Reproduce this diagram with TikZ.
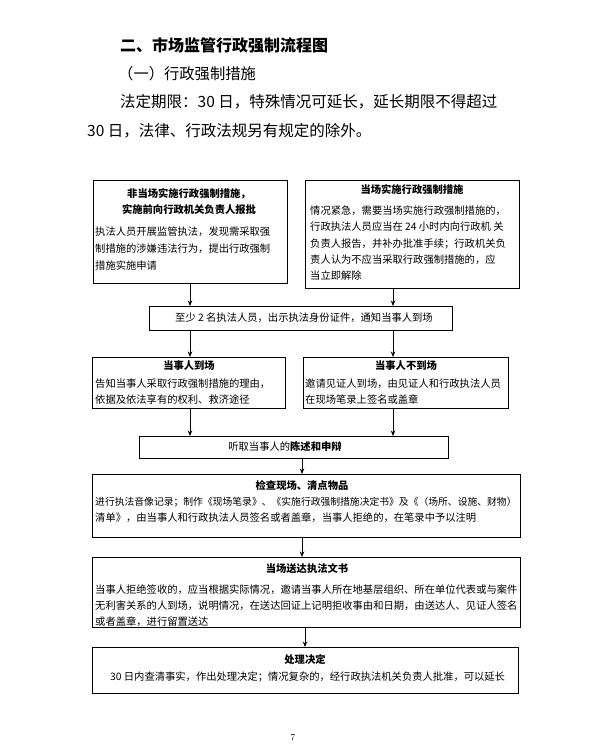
\documentclass[tikz,border=0pt]{standalone}
\usepackage{fontspec}
\newfontfamily\cjk{Noto Sans CJK SC}
\usetikzlibrary{arrows.meta,shadows}
\tikzset{
  box/.style={draw, line width=0.7pt, fill=white, inner sep=0pt, anchor=north west,
    drop shadow={shadow xshift=0.7pt, shadow yshift=-0.7pt, opacity=1, fill=black}},
  tx/.style={font=\cjk\fontsize{10.3}{12}\selectfont, inner sep=0pt, anchor=west},
  txs/.style={font=\cjk\fontsize{9.8}{12}\selectfont, inner sep=0pt, anchor=west},
  hd/.style={font=\cjk\bfseries\fontsize{10.3}{12}\selectfont, inner sep=0pt},
  arr/.style={-{Stealth[length=5.5pt,width=4.5pt]}, line width=0.8pt},
  big/.style={inner sep=0pt, anchor=west}
}
\begin{document}
\begin{tikzpicture}[x=1pt,y=-1pt]
\useasboundingbox (0,0) rectangle (589,748);
\fill[white] (0,0) rectangle (589,748);

% header texts
\node[big, font=\cjk\bfseries\fontsize{16}{16}\selectfont] (title) at (120,45) {二、市场监管行政强制流程图};
\node[big, font=\cjk\fontsize{15.3}{16}\selectfont] (sub) at (118,74) {（一）行政强制措施};
\node[big, font=\cjk\fontsize{15.5}{16}\selectfont] (p1) at (120,102) {法定期限：30 日，特殊情况可延长，延长期限不得超过};
\node[big, font=\cjk\fontsize{15.5}{16}\selectfont] (p2) at (87,131) {30 日，法律、行政法规另有规定的除外。};

% boxes
\node[box, minimum width=194pt, minimum height=103pt] (b1) at (93,180) {};
\node[box, minimum width=214pt, minimum height=108pt] (b2) at (305,180) {};
\node[box, minimum width=303pt, minimum height=24pt] (b3) at (149,306) {};
\node[box, minimum width=193pt, minimum height=51pt] (b4) at (92,357) {};
\node[box, minimum width=205pt, minimum height=51pt] (b5) at (303,357) {};
\node[box, minimum width=309pt, minimum height=22pt] (b6) at (139,436) {};
\node[box, minimum width=428pt, minimum height=63pt] (b7) at (92,474) {};
\node[box, minimum width=428pt, minimum height=70pt] (b8) at (92,557) {};
\node[box, minimum width=426pt, minimum height=46pt] (b9) at (92,647) {};

% box 1
\node[hd] (b1h1) at (189,194) {非当场实施行政强制措施，};
\node[hd] (b1h2) at (189,210) {实施前向行政机关负责人报批};
\node[tx] (b1l1) at (95,232) {执法人员开展监管执法，发现需采取强};
\node[tx] (b1l2) at (95,249) {制措施的涉嫌违法行为，提出行政强制};
\node[tx] (b1l3) at (95,266) {措施实施申请};

% box 2
\node[hd] (b2h) at (412,190) {当场实施行政强制措施};
\node[tx] (b2l1) at (310,211) {情况紧急，需要当场实施行政强制措施的，};
\node[tx] (b2l2) at (310,227) {行政执法人员应当在 24 小时内向行政机 关};
\node[tx] (b2l3) at (310,244) {负责人报告，并补办批准手续；行政机关负};
\node[tx] (b2l4) at (310,260) {责人认为不应当采取行政强制措施的，应};
\node[tx] (b2l5) at (310,276) {当立即解除};

% box 3
\node[tx, anchor=center] (b3t) at (304,318) {至少 2 名执法人员，出示执法身份证件，通知当事人到场};

% box 4
\node[hd] (b4h) at (189,366) {当事人到场};
\node[tx] (b4l1) at (95,384) {告知当事人采取行政强制措施的理由，};
\node[tx] (b4l2) at (95,400) {依据及依法享有的权利、救济途径};

% box 5
\node[hd] (b5h) at (406,366) {当事人不到场};
\node[tx] (b5l1) at (305,384) {邀请见证人到场，由见证人和行政执法人员};
\node[tx] (b5l2) at (305,400) {在现场笔录上签名或盖章};

% box 6
\node[tx, anchor=center] (b6t) at (285,447) {听取当事人的\textbf{陈述和申辩}};

% box 7
\node[hd] (b7h) at (302,486) {检查现场、清点物品};
\node[txs] (b7l1) at (95,502) {进行执法音像记录；制作《现场笔录》、《实施行政强制措施决定书》及《（场所、设施、财物）};
\node[tx] (b7l2) at (95,518) {清单》，由当事人和行政执法人员签名或者盖章，当事人拒绝的，在笔录中予以注明};

% box 8
\node[hd] (b8h) at (307,569) {当场送达执法文书};
\node[tx] (b8l1) at (95,590) {当事人拒绝签收的，应当根据实际情况，邀请当事人所在地基层组织、所在单位代表或与案件};
\node[tx] (b8l2) at (95,606) {无利害关系的人到场，说明情况，在送达回证上记明拒收事由和日期，由送达人、见证人签名};
\node[tx] (b8l3) at (95,622) {或者盖章，进行留置送达};

% box 9
\node[hd] (b9h) at (305,660) {处理决定};
\node[tx] (b9l1) at (110,677) {30 日内查清事实，作出处理决定；情况复杂的，经行政执法机关负责人批准，可以延长};

% page number
\node[inner sep=0pt, font=\fontsize{9}{10}\selectfont] (pg) at (293,738) {7};

% arrows
\coordinate (xl) at (190,0);
\coordinate (xr) at (393,0);
\coordinate (xm) at (302,0);
\coordinate (xn) at (305,0);
\draw[arr] (b1.south -| xl) -- (b3.north -| xl);
\draw[arr] (b2.south -| xr) -- (b3.north -| xr);
\draw[arr] (b3.south -| xl) -- (b4.north -| xl);
\draw[arr] (b3.south -| xr) -- (b5.north -| xr);
\draw[arr] (b4.south -| xl) -- (b6.north -| xl);
\draw[arr] (b5.south -| xr) -- (b6.north -| xr);
\draw[arr] (b6.south -| xm) -- (b7.north -| xm);
\draw[arr] (b7.south -| xm) -- (b8.north -| xm);
\draw[arr] (b8.south -| xn) -- (b9.north -| xn);
\end{tikzpicture}
\end{document}
